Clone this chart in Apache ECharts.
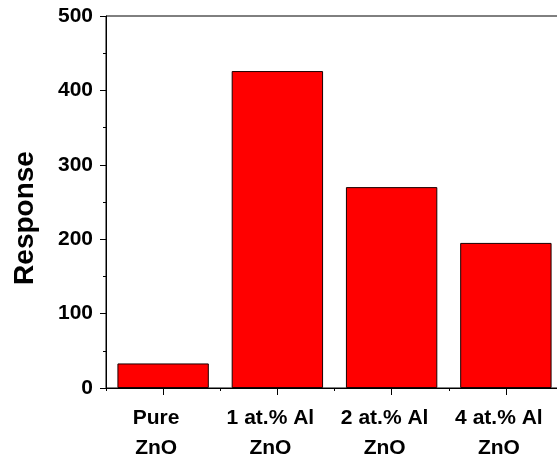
<!DOCTYPE html>
<html>
<head>
<meta charset="utf-8">
<script src="https://cdn.jsdelivr.net/npm/echarts@6/dist/echarts.min.js"></script>
<style>
html,body{margin:0;padding:0;background:#fff;}
#chart{width:557px;height:458px;}
</style>
</head>
<body>
<div id="chart"></div>
<script>
var categories = ['Pure\nZnO', '1 at.% Al\nZnO', '2 at.% Al\nZnO', '4 at.% Al\nZnO'];
var responseValues = [33, 426, 270, 195];
var yTicks = [0, 100, 200, 300, 400, 500];
var boundaryTicks = [0, 1, 2, 3, 4];

var FONT = 'Liberation Sans, Arial, Helvetica, sans-serif';
var chart = echarts.init(document.getElementById('chart'), null, {renderer: 'canvas'});
chart.setOption({
  animation: false,
  backgroundColor: '#ffffff',
  grid: {
    left: 106, top: 16, width: 457, height: 372,
    outerBoundsMode: 'none', containLabel: false,
    show: true, borderColor: '#000', borderWidth: 1, backgroundColor: 'transparent'
  },
  xAxis: [{
    type: 'category',
    data: categories,
    position: 'bottom',
    axisLine: {show: true, lineStyle: {color: '#000', width: 1}},
    axisTick: {show: true, alignWithLabel: true, length: 7, lineStyle: {color: '#000', width: 1}},
    axisLabel: {
      show: true, interval: 0, margin: 15,
      fontFamily: FONT, fontWeight: 'bold', fontSize: 21, color: '#000',
      lineHeight: 30, padding: [0, 14, 0, 0]
    },
    splitLine: {show: false}
  }, {
    type: 'value',
    min: boundaryTicks[0], max: boundaryTicks[boundaryTicks.length - 1], interval: 1,
    position: 'bottom',
    axisLine: {show: false},
    axisTick: {show: true, length: 3, lineStyle: {color: '#000', width: 1}},
    axisLabel: {show: false},
    splitLine: {show: false}
  }],
  yAxis: {
    type: 'value',
    min: yTicks[0], max: yTicks[yTicks.length - 1], interval: 100,
    name: 'Response',
    nameLocation: 'middle',
    nameGap: 67,
    nameTextStyle: {fontFamily: FONT, fontWeight: 'bold', fontSize: 28, color: '#000', padding: [0, 32, 0, 0]},
    axisLine: {show: true, lineStyle: {color: '#000', width: 1}},
    axisTick: {show: true, length: 6, lineStyle: {color: '#000', width: 1}},
    minorTick: {show: true, splitNumber: 2, length: 3, lineStyle: {color: '#000', width: 1}},
    axisLabel: {show: true, margin: 13, fontFamily: FONT, fontWeight: 'bold', fontSize: 21, color: '#000'},
    splitLine: {show: false}
  },
  series: [{
    type: 'bar',
    xAxisIndex: 0,
    data: responseValues,
    barWidth: '80%',
    itemStyle: {color: '#ff0000', borderColor: '#1a0000', borderWidth: 1}
  }]
});
</script>
</body>
</html>
